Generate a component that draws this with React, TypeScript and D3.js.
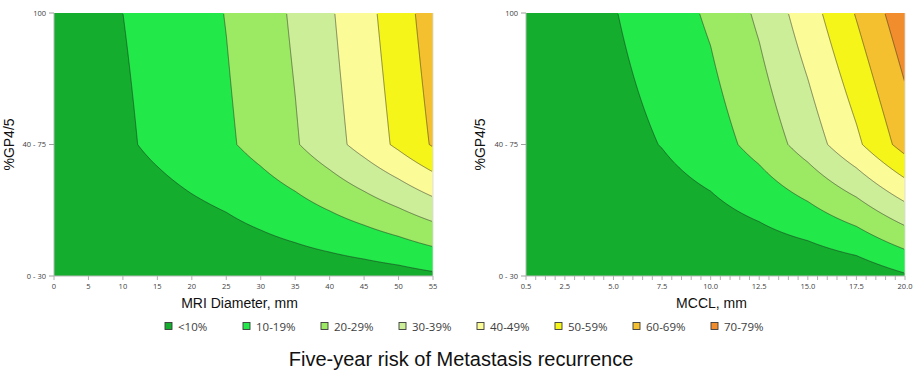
import React, { useMemo } from "react";
import * as d3 from "d3";

// ---- Data (risk in %) ----
const gpCategories = ["0 - 30", "40 - 75", "100"];

const diamX = [0, 5, 10, 15, 20, 25, 30, 35, 40, 45, 50, 55];
const diamRiskLow = [0, 0, 0, 0, 1.0, 2.0, 2.8, 3.5, 4.2, 5.0, 6.2, 8.2];
const diamRiskMid = [4.0, 6.0, 8.5, 12.0, 15.4, 18.5, 23.4, 29.1, 36.1, 43.8, 52.0, 61.0];
const diamRiskHigh = [4.5, 7.0, 10.0, 13.0, 16.5, 20.3, 25.5, 31.5, 38.8, 46.8, 55.3, 65.0];
const diamTicks = [0, 5, 10, 15, 20, 25, 30, 35, 40, 45, 50, 55];

const mcclX = [0.5, 2.5, 5, 7.5, 10, 12.5, 15, 17.5, 20];
const mcclRiskLow = [0, 0, 0, 0, 0, 0.5, 1.0, 3.0, 8.8];
const mcclRiskMid = [3.0, 4.5, 6.5, 10.3, 15.5, 23.5, 34.5, 48.0, 64.2];
const mcclRiskHigh = [4.5, 6.5, 9.5, 15.0, 21.5, 31.8, 45.5, 60.7, 76.6];
const mcclTicks = [0.5, 2.5, 5, 7.5, 10, 12.5, 15, 17.5, 20];
const mcclMinorStep = 0.5;

const riskThresholds = [10, 20, 30, 40, 50, 60, 70];
const riskLabels = ["<10%", "10-19%", "20-29%", "30-39%", "40-49%", "50-59%", "60-69%", "70-79%"];
const riskColors = ["#14AD2E", "#23E849", "#9CE963", "#CDEE98", "#FBFB98", "#F6F51A", "#F5C030", "#F28D2D"];

const FONT = "'Liberation Sans', Arial, sans-serif";
const SMALL_FONT = "'Open Sans', 'Liberation Sans', sans-serif";

type PanelProps = {
  id: string;
  x0: number;
  y0: number;
  w: number;
  h: number;
  xs: number[];
  low: number[];
  mid: number[];
  high: number[];
  ticks: number[];
  minorTicks: number[];
  fmt: (v: number) => string;
  xTitle: string;
  yTitleX: number;
};

function Panel(p: PanelProps) {
  const { x0, y0, w, h } = p;
  const xScale = d3.scaleLinear().domain([p.xs[0], p.xs[p.xs.length - 1]]).range([x0, x0 + w]);
  const yScale = d3.scaleLinear().domain([0, 2]).range([y0 + h, y0]);

  const paths = useMemo(() => {
    const fLow = d3.scaleLinear().domain(p.xs).range(p.low);
    const fMid = d3.scaleLinear().domain(p.xs).range(p.mid);
    const fHigh = d3.scaleLinear().domain(p.xs).range(p.high);
    const a = new Array(w), b = new Array(w), c = new Array(w);
    for (let i = 0; i < w; i++) {
      const xv = xScale.invert(x0 + i + 0.5);
      a[i] = fLow(xv);
      b[i] = fMid(xv);
      c[i] = fHigh(xv);
    }
    const values: number[] = new Array(w * h);
    for (let j = 0; j < h; j++) {
      const u = yScale.invert(y0 + j + 0.5);
      for (let i = 0; i < w; i++) {
        values[j * w + i] = u <= 1 ? a[i] + (b[i] - a[i]) * u : b[i] + (c[i] - b[i]) * (u - 1);
      }
    }
    const cs = d3.contours().size([w, h]).thresholds(riskThresholds)(values);
    const gp = d3.geoPath();
    return cs.map((g) => gp(g as any) || "");
  }, []);

  const yMid = y0 + h / 2;
  return (
    <g>
      <defs>
        <clipPath id={`clip-${p.id}`}>
          <rect x={1} y={1} width={w - 2} height={h - 2} />
        </clipPath>
      </defs>
      <rect x={x0} y={y0} width={w} height={h} fill={riskColors[0]} />
      <g transform={`translate(${x0},${y0})`}>
        {paths.map((d, k) => (
          <path key={k} d={d} fill={riskColors[k + 1]} stroke="none" />
        ))}
        <g clipPath={`url(#clip-${p.id})`}>
          {paths.map((d, k) => (
            <path key={k} d={d} fill="none" stroke="#1e1e1e" strokeWidth={0.6} strokeOpacity={0.85} />
          ))}
        </g>
      </g>
      {/* axes */}
      <line x1={x0} x2={x0} y1={y0} y2={y0 + h} stroke="#b8b8b8" strokeWidth={1} />
      <line x1={x0} x2={x0 + w} y1={y0 + h} y2={y0 + h} stroke="#b8b8b8" strokeWidth={1} />
      <line x1={x0 + w} x2={x0 + w} y1={y0} y2={y0 + h} stroke="#d8d8d8" strokeWidth={0.8} />
      {gpCategories.map((cat, i) => (
        <g key={cat}>
          <line x1={x0 - 5} x2={x0} y1={yScale(i)} y2={yScale(i)} stroke="#a0a0a0" strokeWidth={1} />
          <text x={x0 - 8} y={yScale(i)} dy="0.35em" textAnchor="end" fontSize={7.5} fontFamily={SMALL_FONT} fill="#404040">
            {cat}
          </text>
        </g>
      ))}
      {p.minorTicks.map((t, i) => (
        <line key={i} x1={xScale(t)} x2={xScale(t)} y1={y0 + h} y2={y0 + h + 4} stroke="#b0b0b0" strokeWidth={1} />
      ))}
      {p.ticks.map((t) => (
        <text key={t} x={xScale(t)} y={289} textAnchor="middle" fontSize={7.5} fontFamily={SMALL_FONT} fill="#404040">
          {p.fmt(t)}
        </text>
      ))}
      <text x={x0 + w / 2 - 4} y={308} textAnchor="middle" fontSize={14} fontFamily={FONT} fill="#111">
        {p.xTitle}
      </text>
      <text
        transform={`translate(${p.yTitleX},${yMid}) rotate(-90)`}
        textAnchor="middle"
        fontSize={14}
        fontFamily={FONT}
        fill="#111"
      >
        %GP4/5
      </text>
    </g>
  );
}

export default function App() {
  const legendX = d3.scaleLinear().domain([0, riskLabels.length - 1]).range([165, 711]);
  const mcclMinor = d3.range(mcclX[0], mcclX[mcclX.length - 1] + 1e-9, mcclMinorStep);
  return (
    <svg width={921} height={377} style={{ position: "absolute", left: 0, top: 0, background: "#fff" }}>
      <rect x={0} y={0} width={921} height={377} fill="#fff" />
      <Panel
        id="diam"
        x0={54}
        y0={13}
        w={379}
        h={263}
        xs={diamX}
        low={diamRiskLow}
        mid={diamRiskMid}
        high={diamRiskHigh}
        ticks={diamTicks}
        minorTicks={diamTicks}
        fmt={(v) => String(v)}
        xTitle="MRI Diameter, mm"
        yTitleX={13.5}
      />
      <Panel
        id="mccl"
        x0={526}
        y0={13}
        w={379}
        h={263}
        xs={mcclX}
        low={mcclRiskLow}
        mid={mcclRiskMid}
        high={mcclRiskHigh}
        ticks={mcclTicks}
        minorTicks={mcclMinor}
        fmt={(v) => v.toFixed(1)}
        xTitle="MCCL, mm"
        yTitleX={485}
      />
      {riskLabels.map((lab, i) => (
        <g key={lab}>
          <rect x={legendX(i)} y={322.5} width={7} height={7} fill={riskColors[i]} stroke="#3a3a3a" strokeWidth={0.9} />
          <text x={legendX(i) + 13} y={330.5} fontSize={11.5} fontFamily={SMALL_FONT} fill="#404040">
            {lab}
          </text>
        </g>
      ))}
      <text x={461} y={366} textAnchor="middle" fontSize={20} fontFamily={FONT} fill="#111">
        Five-year risk of Metastasis recurrence
      </text>
    </svg>
  );
}
